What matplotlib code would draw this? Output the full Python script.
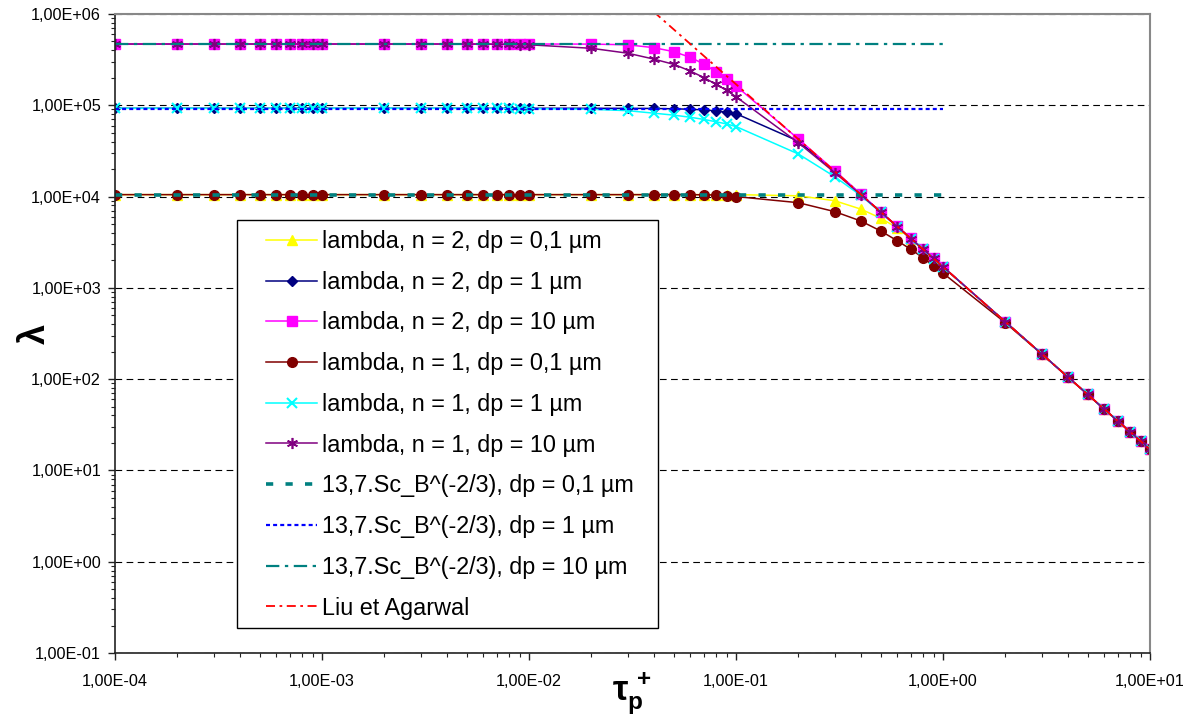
import matplotlib
matplotlib.use('Agg')
import matplotlib.pyplot as plt
from matplotlib.ticker import LogLocator, FuncFormatter, NullFormatter
from matplotlib.patches import Rectangle

plt.rcParams['font.family'] = ['Liberation Sans', 'DejaVu Sans']
plt.rcParams['mathtext.fontset'] = 'custom'
plt.rcParams['mathtext.rm'] = 'Liberation Sans:bold'
plt.rcParams['mathtext.it'] = 'Liberation Sans:bold'
plt.rcParams['mathtext.bf'] = 'Liberation Sans:bold'

# tau_p+ values (x)
tau = [1e-4, 2e-4, 3e-4, 4e-4, 5e-4, 6e-4, 7e-4, 8e-4, 9e-4,
       1e-3, 2e-3, 3e-3, 4e-3, 5e-3, 6e-3, 7e-3, 8e-3, 9e-3,
       1e-2, 2e-2, 3e-2, 4e-2, 5e-2, 6e-2, 7e-2, 8e-2, 9e-2,
       0.1, 0.2, 0.3, 0.4, 0.5, 0.6, 0.7, 0.8, 0.9,
       1, 2, 3, 4, 5, 6, 7, 8, 9, 10]

# lambda, n = 2
lam_n2_01 = [10500, 10500, 10500, 10500, 10500, 10500, 10500, 10500, 10500,
             10500, 10500, 10500, 10500, 10500, 10500, 10500, 10500, 10500,
             10500, 10500, 10500, 10500, 10500, 10500, 10500, 10500, 10500,
             10500, 10200, 9000, 7300, 5800, 4550, 3450, 2640, 2100,
             1700, 425, 189, 106, 68, 47, 34.7, 26.6, 21, 17]
lam_n2_1 = [92700, 92700, 92700, 92700, 92700, 92700, 92700, 92700, 92700,
            92700, 92700, 92700, 92700, 92700, 92700, 92700, 92700, 92700,
            92700, 92700, 92500, 92300, 91500, 90500, 89000, 87000, 84000,
            81000, 40500, 19000, 10600, 6780, 4720, 3470, 2650, 2100,
            1700, 425, 189, 106, 68, 47, 34.7, 26.6, 21, 17]
lam_n2_10 = [469000, 469000, 469000, 469000, 469000, 469000, 469000, 469000, 469000,
             469000, 469000, 469000, 469000, 469000, 469000, 469000, 469000, 469000,
             469000, 468000, 460000, 428000, 387000, 336000, 283000, 233000, 194000,
             163000, 42800, 19200, 10700, 6800, 4720, 3480, 2650, 2100,
             1710, 425, 189, 106, 68, 47, 34.7, 26.6, 21, 17]
# lambda, n = 1
lam_n1_01 = [10500, 10500, 10500, 10500, 10500, 10500, 10500, 10500, 10500,
             10500, 10500, 10500, 10500, 10500, 10500, 10500, 10500, 10500,
             10500, 10500, 10500, 10500, 10500, 10500, 10450, 10400, 10200,
             10000, 8570, 6840, 5410, 4200, 3290, 2640, 2140, 1740,
             1450, 415, 188, 106, 68, 47, 34.7, 26.6, 21, 17]
lam_n1_1 = [92700, 92700, 92700, 92700, 92700, 92700, 92700, 92700, 92700,
            92700, 92700, 92700, 92700, 92700, 92600, 92500, 92400, 92200,
            92000, 90400, 87300, 82000, 78000, 74000, 70000, 66000, 62500,
            58500, 29300, 16500, 10300, 6700, 4680, 3450, 2640, 2090,
            1700, 425, 189, 106, 68, 47, 34.7, 26.6, 21, 17]
lam_n1_10 = [469000, 469000, 469000, 469000, 469000, 469000, 469000, 469000, 469000,
             469000, 469000, 469000, 469000, 469000, 468000, 467000, 465000, 463000,
             460000, 421000, 372000, 321000, 281000, 238000, 201000, 170000, 146000,
             124000, 38900, 18300, 10500, 6750, 4700, 3460, 2650, 2100,
             1700, 425, 189, 106, 68, 47, 34.7, 26.6, 21, 17]

# 13,7.Sc_B^(-2/3) reference levels, drawn from 1e-4 to 1
tau_ref = tau[:37]
sc_01 = [10300] * len(tau_ref)
sc_1 = [91500] * len(tau_ref)
sc_10 = [469000] * len(tau_ref)

# Liu et Agarwal
tau_liu = [0.04, 0.1, 1, 10]
lam_liu = [1.06e6, 1.7e5, 1.7e3, 17]

fig = plt.figure(figsize=(11.95, 7.22), dpi=100)
ax = fig.add_axes([0.09623, 0.09557, 0.86611, 0.88504])
ax.set_xscale('log')
ax.set_yscale('log')

lw = 1.1
ax.plot(tau, lam_n2_01, color='#FFFF00', lw=lw, marker='^', ms=7, mec='#FFFF00',
        label='lambda, n = 2, dp = 0,1 µm')
ax.plot(tau, lam_n2_1, color='#000080', lw=lw, marker='D', ms=5, mec='#000080',
        label='lambda, n = 2, dp = 1 µm')
ax.plot(tau, lam_n2_10, color='#FF00FF', lw=lw, marker='s', ms=7, mec='#FF00FF',
        label='lambda, n = 2, dp = 10 µm')
ax.plot(tau, lam_n1_01, color='#800000', lw=lw, marker='o', ms=7, mec='#800000',
        label='lambda, n = 1, dp = 0,1 µm')
ax.plot(tau, lam_n1_1, color='#00FFFF', lw=lw, marker='x', ms=7, mew=1.5,
        label='lambda, n = 1, dp = 1 µm')
ax.plot(tau, lam_n1_10, color='#800080', lw=lw, marker=(6, 2, 0), ms=8, mew=1.2,
        label='lambda, n = 1, dp = 10 µm')
ax.plot(tau_ref, sc_01, color='#008080', lw=2.6, linestyle=(0, (2, 3.4)),
        label='13,7.Sc_B^(-2/3), dp = 0,1 µm')
ax.plot(tau_ref, sc_1, color='#0000FF', lw=1.6, linestyle=(0, (1.8, 1.4)),
        label='13,7.Sc_B^(-2/3), dp = 1 µm')
ax.plot(tau_ref, sc_10, color='#008080', lw=1.6, linestyle=(0, (6, 2.5, 1.5, 2.5)),
        label='13,7.Sc_B^(-2/3), dp = 10 µm')
ax.plot(tau_liu, lam_liu, color='#FF0000', lw=1.3, linestyle=(0, (5, 2.5, 1.5, 2.5)),
        label='Liu et Agarwal')

ax.set_xlim(1e-4, 10)
ax.set_ylim(0.1, 1e6)

fmt = FuncFormatter(lambda v, p: ('%.2E' % v).replace('.', ','))
ax.xaxis.set_major_locator(LogLocator(base=10, numticks=20))
ax.yaxis.set_major_locator(LogLocator(base=10, numticks=20))
ax.xaxis.set_minor_locator(LogLocator(base=10, subs=range(2, 10), numticks=50))
ax.yaxis.set_minor_locator(LogLocator(base=10, subs=range(2, 10), numticks=50))
ax.xaxis.set_major_formatter(fmt)
ax.yaxis.set_major_formatter(fmt)
ax.xaxis.set_minor_formatter(NullFormatter())
ax.yaxis.set_minor_formatter(NullFormatter())
ax.tick_params(which='major', direction='out', length=5, width=1, labelsize=11.7,
               color='#222222')
ax.tick_params(which='minor', direction='out', length=3, width=0.8, color='#222222')
ax.tick_params(axis='x', pad=10)
ax.tick_params(axis='y', pad=5)

ax.yaxis.grid(True, which='major', color='black', linestyle=(0, (6, 4)), linewidth=0.8)
ax.set_axisbelow(True)

for s in ['left', 'bottom']:
    ax.spines[s].set_color('#222222')
    ax.spines[s].set_linewidth(1.2)
for s in ['top', 'right']:
    ax.spines[s].set_color('#888888')
    ax.spines[s].set_linewidth(1.5)

ax.set_ylabel('λ', fontsize=26, fontweight='bold')
ax.yaxis.set_label_coords(-0.06, 0.5)
ax.set_xlabel(r'$\tau_p^{\,+}$', fontsize=25)
ax.xaxis.set_label_coords(0.5, -0.028)

# legend frame
ax.add_patch(Rectangle((237 / 1195, 94 / 722), 421 / 1195, 408 / 722,
                       transform=fig.transFigure, facecolor='white',
                       edgecolor='black', lw=1, zorder=4))
leg = ax.legend(loc='upper left', bbox_to_anchor=(0.1459, 0.662), frameon=False,
                borderpad=0, borderaxespad=0, fontsize=16.8, handlelength=2.19,
                handletextpad=0.22, labelspacing=0.76, numpoints=1)
leg.set_zorder(5)

fig.savefig('out.png', dpi=100)
